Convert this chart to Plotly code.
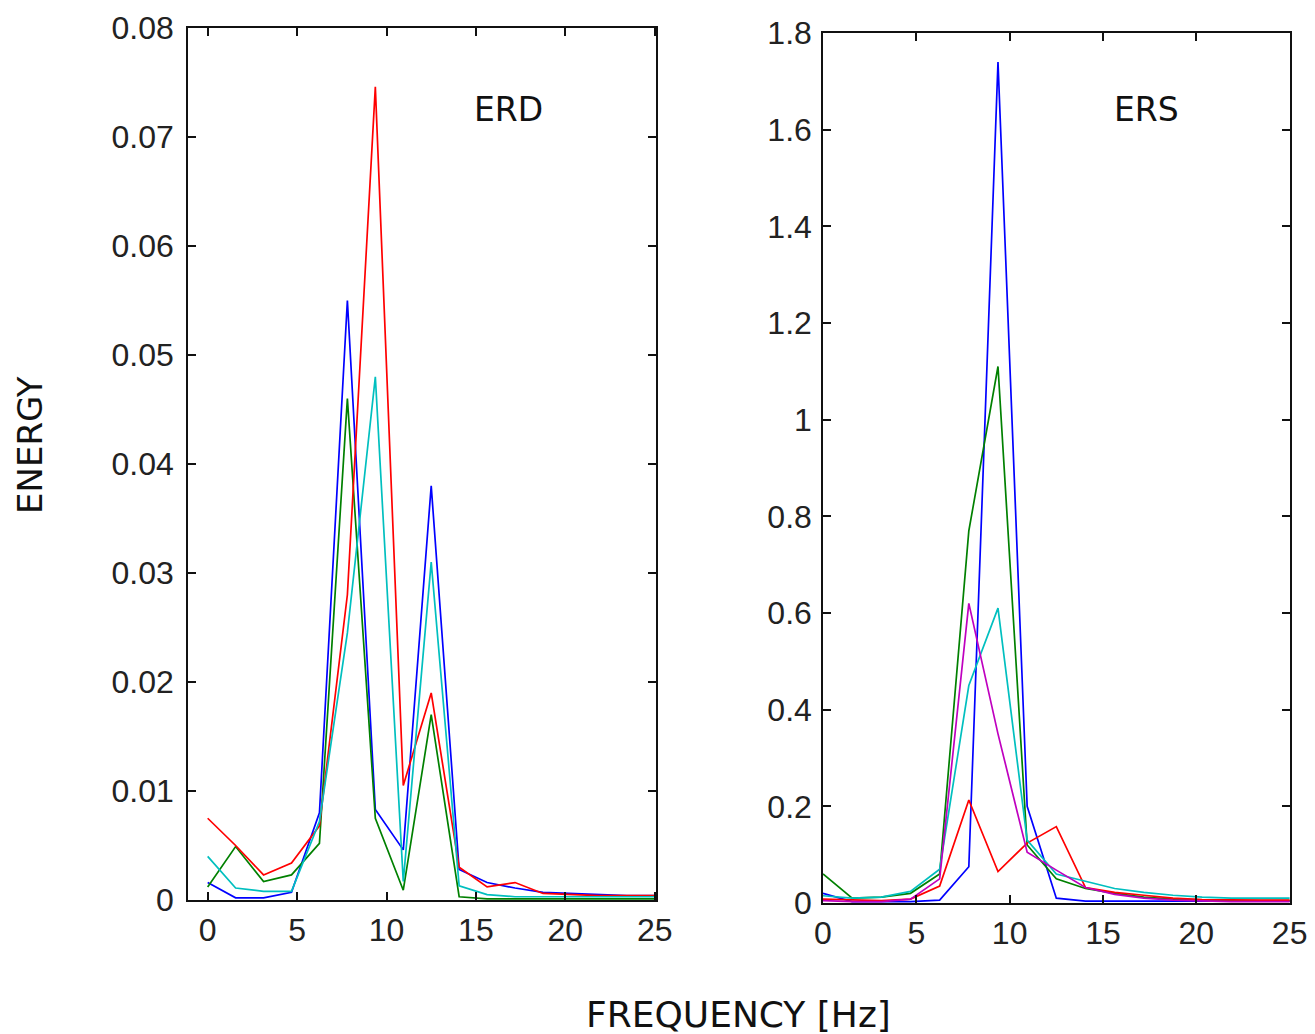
import plotly.graph_objects as go

# ---------------- data ----------------
freq = [0, 1.5625, 3.125, 4.6875, 6.25, 7.8125, 9.375, 10.9375, 12.5,
        14.0625, 15.625, 17.1875, 18.75, 20.3125, 21.875, 23.4375, 25]

# ERD panel
erd_blue = [0.0016, 0.0002, 0.0002, 0.0007, 0.0080, 0.0550, 0.0083, 0.0046, 0.0380,
            0.0028, 0.0016, 0.0011, 0.0007, 0.0006, 0.0005, 0.0004, 0.0004]
erd_green = [0.0012, 0.0049, 0.0017, 0.0023, 0.0052, 0.0460, 0.0075, 0.0009, 0.0170,
             0.0003, 0.0001, 0.0001, 0.0001, 0.0001, 0.0001, 0.0001, 0.0001]
erd_red = [0.0075, 0.0050, 0.0023, 0.0034, 0.0068, 0.0280, 0.0746, 0.0105, 0.0190,
           0.0030, 0.0012, 0.0016, 0.0006, 0.0005, 0.0004, 0.0004, 0.0004]
erd_cyan = [0.0040, 0.0011, 0.0008, 0.0008, 0.0072, 0.0245, 0.0480, 0.0017, 0.0310,
            0.0013, 0.0005, 0.0003, 0.0003, 0.0003, 0.0003, 0.0003, 0.0003]

# ERS panel
ers_blue = [0.020, 0.003, 0.003, 0.003, 0.006, 0.075, 1.740, 0.200, 0.010,
            0.004, 0.004, 0.004, 0.004, 0.004, 0.004, 0.004, 0.004]
ers_green = [0.060, 0.010, 0.012, 0.020, 0.060, 0.770, 1.110, 0.120, 0.050,
             0.030, 0.020, 0.012, 0.008, 0.006, 0.005, 0.005, 0.005]
ers_red = [0.008, 0.006, 0.005, 0.008, 0.035, 0.213, 0.065, 0.124, 0.158,
           0.032, 0.022, 0.016, 0.010, 0.007, 0.006, 0.006, 0.006]
ers_cyan = [0.015, 0.010, 0.012, 0.024, 0.070, 0.450, 0.610, 0.130, 0.060,
            0.045, 0.030, 0.022, 0.016, 0.012, 0.010, 0.010, 0.010]
ers_magenta = [0.005, 0.003, 0.003, 0.008, 0.050, 0.620, 0.350, 0.105, 0.068,
               0.032, 0.018, 0.010, 0.006, 0.004, 0.003, 0.003, 0.003]

x_ticks = [0, 5, 10, 15, 20, 25]
x_ticktext = ["0", "5", "10", "15", "20", "25"]
erd_yticks = [0, 0.01, 0.02, 0.03, 0.04, 0.05, 0.06, 0.07, 0.08]
erd_yticktext = ["0", "0.01", "0.02", "0.03", "0.04", "0.05", "0.06", "0.07", "0.08"]
ers_yticks = [0, 0.2, 0.4, 0.6, 0.8, 1.0, 1.2, 1.4, 1.6, 1.8]
ers_yticktext = ["0", "0.2", "0.4", "0.6", "0.8", "1", "1.2", "1.4", "1.6", "1.8"]

# ---------------- styles / layout ----------------
C_BLUE = "#0000FF"
C_GREEN = "#008000"
C_RED = "#FF0000"
C_CYAN = "#00BFBF"
C_MAG = "#BF00BF"
LW = 1.7

BODY = 8                      # browser default body margin
WF, HF = 1315 - BODY, 1034 - BODY


def px(sx):
    return (sx - BODY) / WF


def py(sy):
    return 1 - (sy - BODY) / HF


fig = go.Figure()

for ys, col in [(erd_blue, C_BLUE), (erd_green, C_GREEN), (erd_red, C_RED), (erd_cyan, C_CYAN)]:
    fig.add_trace(go.Scatter(x=freq, y=ys, mode="lines", line=dict(color=col, width=LW),
                             xaxis="x", yaxis="y", showlegend=False, hoverinfo="skip"))

for ys, col in [(ers_blue, C_BLUE), (ers_green, C_GREEN), (ers_red, C_RED),
                (ers_cyan, C_CYAN), (ers_magenta, C_MAG)]:
    fig.add_trace(go.Scatter(x=freq, y=ys, mode="lines", line=dict(color=col, width=LW),
                             xaxis="x2", yaxis="y2", showlegend=False, hoverinfo="skip"))

tickfont = dict(family="Liberation Sans, Arial, sans-serif", size=32, color="#222")
axis_common = dict(showline=True, linecolor="#111", linewidth=1.5, mirror="ticks",
                   ticks="inside", ticklen=8, tickwidth=1.5, tickcolor="#111",
                   showgrid=False, zeroline=False, tickfont=tickfont, automargin=False,
                   ticklabeloverflow="allow")

fig.update_layout(
    template="none",
    width=WF, height=HF,
    margin=dict(l=0, r=0, t=0, b=0, pad=0),
    paper_bgcolor="white", plot_bgcolor="white",
    xaxis=dict(domain=[px(188), px(656)], range=[-1.1, 25.07], anchor="y",
               tickvals=x_ticks, ticktext=x_ticktext, ticklabelstandoff=1, **axis_common),
    yaxis=dict(domain=[py(900), py(28)], range=[0, 0.08], anchor="x",
               tickvals=erd_yticks, ticktext=erd_yticktext, ticklabelstandoff=6, **axis_common),
    xaxis2=dict(domain=[px(823), px(1290)], range=[0, 25.02], anchor="y2",
                tickvals=x_ticks, ticktext=x_ticktext, ticklabelstandoff=1, **axis_common),
    yaxis2=dict(domain=[py(903), py(33)], range=[0, 1.8], anchor="x2",
                tickvals=ers_yticks, ticktext=ers_yticktext, ticklabelstandoff=3, **axis_common),
)

ann = dict(xref="paper", yref="paper", showarrow=False, xanchor="center", yanchor="middle")
fig.add_annotation(text="ERD", x=px(508), y=py(110),
                   font=dict(family="DejaVu Sans, sans-serif", size=33, color="#111"), **ann)
fig.add_annotation(text="ERS", x=px(1146), y=py(110),
                   font=dict(family="DejaVu Sans, sans-serif", size=33, color="#111"), **ann)
fig.add_annotation(text="ENERGY", x=px(30), y=py(445), textangle=-90,
                   font=dict(family="DejaVu Sans, sans-serif", size=34, color="#111"), **ann)
fig.add_annotation(text="FREQUENCY [Hz]", x=px(738), y=py(1014),
                   font=dict(family="DejaVu Sans, sans-serif", size=36, color="#111"), **ann)

fig.write_html("out.html")
